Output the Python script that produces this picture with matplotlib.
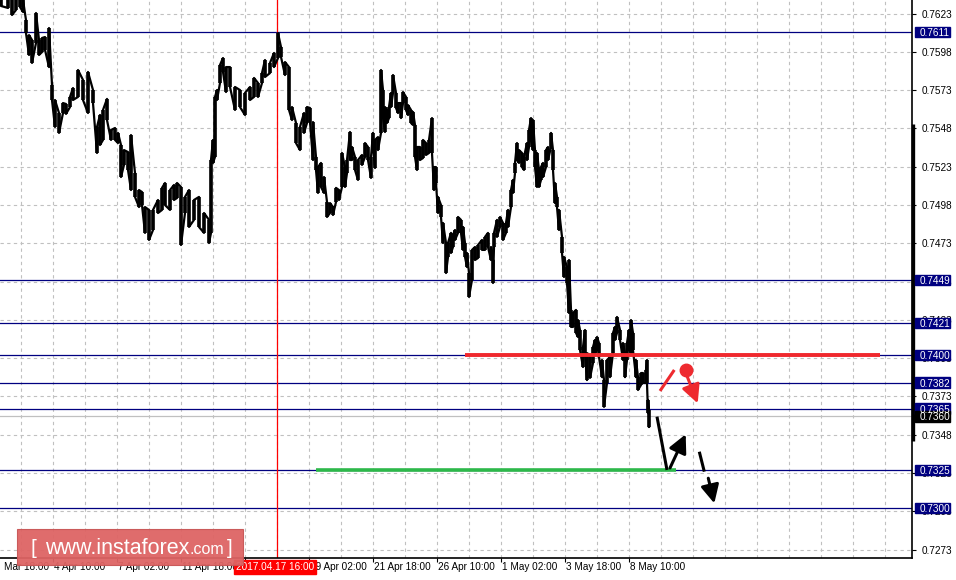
import matplotlib
matplotlib.use("Agg")
import matplotlib.pyplot as plt
from matplotlib.patches import Rectangle, FancyArrowPatch
from matplotlib.transforms import Bbox

plt.rcParams['font.family'] = ['Liberation Sans', 'DejaVu Sans']

# ---------------- data (hourly bars) ----------------
bar_idx = [1, 8, 12, 16, 20, 23, 26, 29, 32, 36,
           39, 42, 45, 49, 52, 55, 59, 63, 66, 70,
           73, 78, 83, 88, 93, 97, 100, 103, 107, 111,
           115, 118, 121, 124, 128, 131, 135, 139, 142, 145,
           149, 153, 158, 162, 165, 170, 174, 177, 181, 185,
           189, 194, 199, 204, 209, 211, 213, 215, 217, 220,
           223, 226, 230, 235, 240, 245, 250, 254, 258, 262,
           265, 270, 274, 278, 281, 285, 289, 292, 296, 300,
           304, 307, 310, 313, 316, 318, 321, 324, 327, 330,
           333, 336, 339, 342, 345, 347, 350, 352, 355, 358,
           362, 365, 368, 371, 373, 375, 378, 381, 383, 385,
           387, 389, 391, 393, 396, 398, 401, 403, 406, 408,
           411, 413, 415, 417, 420, 423, 426, 429, 432, 434,
           436, 438, 441, 443, 446, 448, 451, 453, 455, 458,
           461, 463, 465, 467, 469, 472, 475, 478, 482, 485,
           488, 491, 493, 494, 497, 500, 503, 506, 508, 511,
           513, 515, 517, 519, 522, 524, 527, 529, 531, 533,
           535, 537, 539, 541, 543, 546, 548, 551, 553, 555,
           557, 559, 562, 564, 567, 569, 571, 573, 576, 578,
           580, 583, 585, 587, 590, 593, 595, 597, 599, 602,
           604, 607, 610, 613, 615, 617, 620, 623, 625, 627,
           629, 631, 633, 636, 638, 641, 643, 646, 647, 648,
           649]

high = [.76371, .76352, .76319, .76352, .76319, .76319, .76188, .76090, .76058, .76234,
        .76058, .76071, .76077, .76136, .75764, .75666, .75581, .75646, .75640, .75686,
        .75744, .75862, .75797, .75849, .75731, .75490, .75568, .75601, .75673, .75470,
        .75483, .75451, .75372, .75339, .75326, .75437, .75189, .75078, .75065, .74967,
        .74948, .74948, .75013, .75092, .75124, .75078, .75111, .75124, .75098, .75033,
        .75078, .75013, .75033, .74928, .74883, .75274, .75405, .75686, .75731, .75895,
        .75940, .75881, .75881, .75751, .75731, .75712, .75751, .75810, .75777, .75842,
        .75927, .75908, .75973, .76103, .76012, .75914, .75881, .75620, .75516, .75490,
        .75581, .75620, .75614, .75522, .75294, .75228, .75255, .75163, .75000, .74993,
        .74967, .75092, .75078, .75320, .75228, .75274, .75457, .75359, .75294, .75274,
        .75307, .75385, .75359, .75294, .75451, .75405, .75424, .75862, .75731, .75620,
        .75601, .75620, .75712, .75829, .75712, .75646, .75646, .75718, .75686, .75633,
        .75601, .75588, .75503, .75359, .75359, .75405, .75385, .75405, .75548, .75228,
        .75228, .75033, .74980, .74863, .74732, .74732, .74798, .74785, .74817, .74902,
        .74883, .74837, .74732, .74667, .74536, .74687, .74706, .74719, .74752, .74772,
        .74798, .74706, .74621, .74798, .74883, .74902, .74863, .74863, .74948, .75078,
        .75144, .75255, .75385, .75339, .75320, .75294, .75385, .75470, .75548, .75535,
        .75339, .75320, .75209, .75228, .75255, .75339, .75359, .75451, .75339, .75124,
        .75033, .74948, .74772, .74641, .74575, .74621, .74295, .74275, .74295, .74229,
        .74164, .74053, .74164, .74013, .74000, .74053, .74099, .74118, .74079, .73968,
        .73837, .73968, .73987, .74145, .74184, .74249, .74164, .74079, .74013, .74079,
        .74164, .74229, .74145, .73968, .73856, .73883, .73883, .73903, .73968, .73707,
        .73642]

low = [.76280, .76267, .76221, .76254, .76273, .76241, .76103, .75960, .75908, .76038,
       .75960, .75979, .75993, .75881, .75666, .75490, .75451, .75581, .75575, .75620,
       .75666, .75686, .75666, .75581, .75646, .75320, .75372, .75405, .75535, .75405,
       .75405, .75385, .75163, .75242, .75209, .75078, .75033, .74967, .74980, .74798,
       .74752, .74817, .74928, .74948, .74980, .74948, .75013, .75026, .74719, .74928,
       .74837, .74883, .74837, .74798, .74732, .74798, .75255, .75294, .75666, .75777,
       .75849, .75718, .75751, .75601, .75620, .75568, .75666, .75686, .75686, .75777,
       .75816, .75842, .75881, .75940, .75947, .75829, .75601, .75535, .75385, .75339,
       .75451, .75516, .75522, .75274, .75209, .75059, .75098, .75059, .74902, .74928,
       .74915, .75000, .75013, .75098, .75098, .75189, .75274, .75274, .75209, .75144,
       .75242, .75294, .75274, .75157, .75359, .75222, .75339, .75451, .75555, .75457,
       .75516, .75548, .75620, .75712, .75614, .75581, .75548, .75646, .75601, .75568,
       .75516, .75503, .75294, .75209, .75274, .75287, .75307, .75320, .75320, .75078,
       .75124, .74928, .74902, .74732, .74536, .74641, .74667, .74706, .74752, .74798,
       .74798, .74687, .74641, .74575, .74380, .74491, .74621, .74634, .74687, .74687,
       .74706, .74621, .74471, .74706, .74772, .74837, .74752, .74798, .74837, .74967,
       .75059, .75189, .75274, .75255, .75228, .75209, .75274, .75359, .75405, .75339,
       .75228, .75098, .75098, .75144, .75163, .75228, .75274, .75359, .75209, .74993,
       .74967, .74817, .74667, .74510, .74471, .74275, .74184, .74184, .74145, .74118,
       .74033, .73922, .74013, .73837, .73851, .73948, .74013, .74033, .73987, .73856,
       .73662, .73818, .73856, .74013, .74099, .74145, .74099, .73968, .73856, .73968,
       .74033, .74013, .74033, .73856, .73772, .73805, .73818, .73818, .73818, .73621,
       .73531]

if not (len(bar_idx) == len(high) == len(low)):
    raise ValueError(f"length mismatch {len(bar_idx)} {len(high)} {len(low)}")

ytick_values = [0.7273, 0.7298, 0.7323, 0.7348, 0.7373, 0.7398, 0.7423, 0.7448,
                0.7473, 0.7498, 0.7523, 0.7548, 0.7573, 0.7598, 0.7623]
xtick_pos = [-10.7, 53.3, 117.3, 181.3, 245.3, 309.3, 373.3, 437.3, 501.3, 565.3, 629.3]
xtick_labels = ["30 Mar 18:00", "4 Apr 10:00", "7 Apr 02:00", "11 Apr 18:00", "14 Apr 10:00",
                "19 Apr 02:00", "21 Apr 18:00", "26 Apr 10:00", "1 May 02:00", "3 May 18:00",
                "8 May 10:00"]

navy_levels = [0.7611, 0.7449, 0.7421, 0.7400, 0.7382, 0.7365, 0.7325, 0.7300]
bid_level = 0.7360
marker_bar = 277
marker_label = "2017.04.17 16:00"

resist_level, resist_from, resist_to = 0.7400, 465, 880
support_level, support_from, support_to = 0.7325, 316, 676

# scenario annotations (bar, price)
red_stroke = [(660, 0.73766), (674.3, 0.73903)]
red_dot = (686.3, 0.73903)
red_arrow = [(687.3, 0.73859), (697.7, 0.73685)]
blk_stroke1 = [(657, 0.73598), (667, 0.73250)]
blk_arrow1 = [(670, 0.73263), (685.7, 0.73483)]
blk_stroke2 = [(699.3, 0.73369), (704.3, 0.73239)]
blk_arrow2 = [(708.3, 0.73196), (714.3, 0.73032)]

# ---------------- figure ----------------
W, H = 956, 580
fig = plt.figure(figsize=(W / 100, H / 100), dpi=100)
fig.patch.set_facecolor("white")
ax = fig.add_axes([0, 22 / H, 912 / W, 558 / H])
ax.set_xlim(0, 912)
ax.set_ylim(0.72675, 0.76319)
ax.set_facecolor("white")

FS = 7.2
NAVY = "#000080"

# grid
for v in ytick_values:
    ax.axhline(v, color="#c0c0c0", lw=0.8, ls=(0, (3, 3)), zorder=0)
gx = 21.3
while gx < 912:
    ax.axvline(gx, color="#c0c0c0", lw=0.8, ls=(0, (3, 3)), zorder=0)
    gx += 32

# level lines
for lv in navy_levels:
    ax.axhline(lv, color=NAVY, lw=0.9, zorder=1)
ax.axhline(bid_level, color="#c0c0c0", lw=0.9, zorder=1)

# marker vertical
ax.axvline(marker_bar, color="red", lw=0.9, zorder=1)

# price bars
ax.vlines(bar_idx, low, high, color="black", lw=2.6, zorder=3)
zx, zy = [], []
for i, (b, h, l) in enumerate(zip(bar_idx, high, low)):
    if i % 2 == 0:
        zx += [b, b]; zy += [h, l]
    else:
        zx += [b, b]; zy += [l, h]
ax.plot(zx, zy, color="black", lw=1.6, zorder=3)

# resistance / support
ax.plot([resist_from, resist_to], [resist_level] * 2, color="#f0282d", lw=2.8,
        solid_capstyle="butt", zorder=4)
ax.plot([support_from, support_to], [support_level] * 2, color="#2db84a", lw=2.6,
        solid_capstyle="butt", zorder=4)

# scenario drawings
RED = "#ee2a2f"
ax.plot(*zip(*red_stroke), color=RED, lw=2.2, solid_capstyle="butt", zorder=5)
ax.plot([red_dot[0]], [red_dot[1]], "o", color=RED, ms=9, zorder=5)
for seg, col in [(red_arrow, RED), (blk_arrow1, "black"), (blk_arrow2, "black")]:
    ar = FancyArrowPatch(seg[0], seg[1], arrowstyle="-|>,head_length=1.1,head_width=0.55",
                         mutation_scale=10, color=col, lw=2.2, zorder=5,
                         shrinkA=0, shrinkB=0)
    ax.add_patch(ar)
for seg in [blk_stroke1, blk_stroke2]:
    ax.plot(*zip(*seg), color="black", lw=2.2, solid_capstyle="butt", zorder=5)

# spines / axes
for s in ["top", "left"]:
    ax.spines[s].set_visible(False)
ax.spines["bottom"].set_color("black")
ax.spines["right"].set_color("black")
ax.spines["bottom"].set_linewidth(1.2)
ax.spines["right"].set_linewidth(1.2)

ax.yaxis.tick_right()
ax.set_yticks(ytick_values)
ax.set_yticklabels([f"{v:.4f}" for v in ytick_values], fontsize=FS)
ax.tick_params(axis="y", direction="out", length=3, pad=4, width=0.8, colors="black")
ax.set_xticks([p for p in xtick_pos if 0 <= p <= 912])
ax.set_xticklabels([])
ax.tick_params(axis="x", direction="out", length=3, width=0.8)

xt = ax.get_xaxis_transform()
label_clip = Bbox([[4, 0], [W, 22]])
for p, lab in zip(xtick_pos, xtick_labels):
    t = ax.text(p + 1, -0.017, lab, transform=xt, ha="left", va="center", fontsize=FS,
                zorder=6)
    t.set_clip_on(True)
    t.set_clip_box(label_clip)
ax.text(marker_bar - 2, -0.017, marker_label, transform=xt, ha="center", va="center",
        fontsize=FS, color="white", clip_on=False, zorder=7,
        bbox=dict(boxstyle="square,pad=0.2", fc="red", ec="red"))

# thick right-edge bar
yt = ax.get_yaxis_transform()
ax.plot([1.0015, 1.0015], [0.7551, 0.7344], transform=yt, color="black", lw=2.4,
        clip_on=False, zorder=6, solid_capstyle="butt")

# level label boxes
px = (0.76319 - 0.72675) / 558
for lv, fc in [(l, NAVY) for l in navy_levels] + [(bid_level, "black")]:
    r = Rectangle((915 / 912, lv - 5.2 * px), 35 / 912, 10.4 * px, transform=yt,
                  fc=fc, ec=fc, clip_on=False, zorder=8)
    ax.add_patch(r)
    ax.text(920 / 912, lv, f"{lv:.4f}", transform=yt, ha="left", va="center_baseline",
            fontsize=FS, color="white", clip_on=False, zorder=9)

# watermark
wm = Rectangle((17 / W, 15 / H), 226 / W, 36 / H, transform=fig.transFigure,
               fc="#de6464", ec="#c85555", lw=0.8, alpha=0.95, zorder=20)
fig.add_artist(wm)
fig.text(30 / W, 26 / H, "[", fontsize=15, color="white", ha="left", va="baseline", zorder=21)
t1 = fig.text(45 / W, 26 / H, "www.instaforex", fontsize=15.5, color="white",
              ha="left", va="baseline", zorder=21)
fig.canvas.draw()
bb = t1.get_window_extent(renderer=fig.canvas.get_renderer())
fig.text(bb.x1 / W, 26 / H, ".com", fontsize=11.5, color="white", ha="left",
         va="baseline", zorder=21)
fig.text(227 / W, 26 / H, "]", fontsize=15, color="white", ha="left", va="baseline", zorder=21)

fig.savefig("out.png", dpi=100, facecolor="white")
